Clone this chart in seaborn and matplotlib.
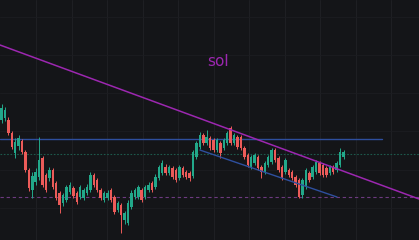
import numpy as np
import pandas as pd
import matplotlib
matplotlib.use("Agg")
import matplotlib.pyplot as plt
import seaborn as sns

# ---- data (price units, arbitrary scale) ----
opens = [120, 122, 120, 107, 87, 94, 99, 88, 70, 50, 58, 63, 82, 65, 62, 70, 57, 47, 37, 40,
         48, 52, 47, 43, 42, 47, 50, 65, 60, 50, 40, 42, 50, 43, 30, 35, 20, 17, 33, 43,
         43, 50, 43, 50, 57, 53, 62, 67, 73, 67, 72, 70, 62, 72, 68, 67, 64, 83, 93, 105,
         97, 102, 100, 90, 97, 92, 97, 112, 97, 103, 103, 92, 85, 73, 77, 83, 73, 68, 75, 78,
         90, 82, 73, 68, 70, 68, 63, 60, 45, 53, 67, 63, 68, 77, 75, 72, 67, 73, 70, 75, 83]
closes = [132, 130, 107, 93, 98, 102, 88, 70, 52, 64, 68, 80, 55, 50, 70, 53, 42, 35, 45, 53,
          55, 44, 38, 53, 50, 53, 65, 55, 50, 42, 47, 47, 40, 28, 37, 25, 27, 37, 47, 50,
          53, 40, 53, 55, 50, 63, 73, 77, 67, 73, 63, 60, 73, 65, 63, 62, 88, 97, 105, 97,
          103, 92, 90, 100, 87, 100, 107, 97, 105, 93, 92, 83, 75, 83, 85, 72, 68, 77, 83, 90,
          80, 70, 62, 80, 65, 62, 55, 43, 60, 70, 60, 73, 78, 67, 65, 65, 73, 68, 77, 88, 88]
highs = [136, 133, 123, 109, 102, 105, 101, 90, 72, 68, 72, 103, 84, 67, 73, 72, 59, 49, 47, 55,
         58, 54, 49, 55, 52, 56, 68, 67, 62, 52, 49, 50, 52, 45, 39, 37, 29, 40, 50, 52,
         55, 52, 55, 58, 59, 66, 75, 80, 76, 75, 74, 72, 75, 74, 70, 69, 90, 99, 108, 107,
         110, 104, 102, 102, 99, 102, 109, 114, 107, 105, 105, 94, 87, 85, 87, 85, 75, 79, 85, 92,
         92, 84, 75, 82, 72, 70, 65, 62, 62, 72, 69, 75, 80, 79, 77, 74, 75, 75, 79, 92, 90]
lows = [117, 119, 105, 91, 82, 90, 86, 68, 49, 42, 55, 60, 53, 48, 59, 51, 40, 27, 34, 38,
        46, 42, 36, 41, 40, 45, 48, 53, 48, 40, 38, 40, 38, 26, 28, 7, 16, 15, 31, 41,
        41, 38, 41, 48, 48, 51, 60, 65, 65, 65, 61, 58, 60, 63, 61, 59, 62, 81, 91, 95,
        95, 90, 88, 88, 82, 90, 95, 95, 95, 91, 90, 81, 73, 71, 75, 70, 62, 66, 73, 76,
        78, 68, 60, 66, 63, 60, 53, 42, 42, 51, 58, 61, 66, 65, 63, 63, 65, 66, 68, 73, 81]

title_text = "sol"
resistance_level = 101
dotted_level = 86
support_level = 43
# trend lines: (candle index, price) endpoints
trend_down_x = [-0.44, 122.1]
trend_down_y = [195, 41]
channel_x = [58.0, 98.1]
channel_y = [90, 43]
resistance_x = [-0.44, 111.3]

# ---- style ----
bg = "#141518"
sns.set_theme(style="dark", rc={"axes.facecolor": bg, "figure.facecolor": bg})
plt.rcParams['font.family'] = ['DejaVu Sans']

fig = plt.figure(figsize=(4.19, 2.40), dpi=100)
ax = fig.add_axes([0, 0, 1, 1])
ax.set_facecolor(bg)

n = len(opens)
idx = np.arange(n)
o = np.array(opens); c = np.array(closes); h = np.array(highs); l = np.array(lows)
up = c >= o
green = "#22a88a"
red = "#ec5b59"
cols = np.where(up, green, red)

# grid
xgrid = (np.arange(11) * 35.5 + 34.5) / 3.42
ygrid = [223, 185, 147, 109, 70, 32]
for gx in xgrid:
    ax.axvline(gx, color="#1f2024", lw=0.7, zorder=0)
for gy in ygrid:
    ax.axhline(gy, color="#1c1d21", lw=0.6, zorder=0)

# horizontal levels
ax.axhline(dotted_level, color="#1d5a4c", lw=0.8, ls=(0, (1.5, 1.5)), zorder=1)
ax.axhline(support_level, color="#6d3a80", lw=0.8, ls=(0, (3, 2.5)), zorder=1)

# candles
ax.vlines(idx, l, h, colors=cols, lw=0.7, zorder=3)
ax.bar(idx, np.maximum(np.abs(c - o), 0.8), bottom=np.minimum(o, c), width=0.72,
       color=cols, edgecolor="none", zorder=4)

# trend lines via seaborn
lines_df = pd.DataFrame({
    "x": trend_down_x + channel_x + resistance_x,
    "y": trend_down_y + channel_y + [resistance_level, resistance_level],
    "line": ["down"] * 2 + ["channel"] * 2 + ["res"] * 2,
})
sns.lineplot(data=lines_df[lines_df.line == "res"], x="x", y="y", color="#2e4f9e",
             lw=1.0, ax=ax, zorder=2, legend=False)
sns.lineplot(data=lines_df[lines_df.line == "channel"], x="x", y="y", color="#2e4f9e",
             lw=1.0, ax=ax, zorder=5, legend=False)
sns.lineplot(data=lines_df[lines_df.line == "down"], x="x", y="y", color="#9c27b0",
             lw=1.1, ax=ax, zorder=5, legend=False)

ax.text((218 - 1.5) / 3.42, 240 - 62, title_text, color="#9c27b0", fontsize=11,
        ha="center", va="center")

ax.set_xlim(-1.5 / 3.42, (419 - 1.5) / 3.42)
ax.set_ylim(0, 240)
ax.set_xticks([]); ax.set_yticks([])
ax.set_xlabel(""); ax.set_ylabel("")
for s in ax.spines.values():
    s.set_visible(False)

fig.savefig("out.png", dpi=100, facecolor=bg)
